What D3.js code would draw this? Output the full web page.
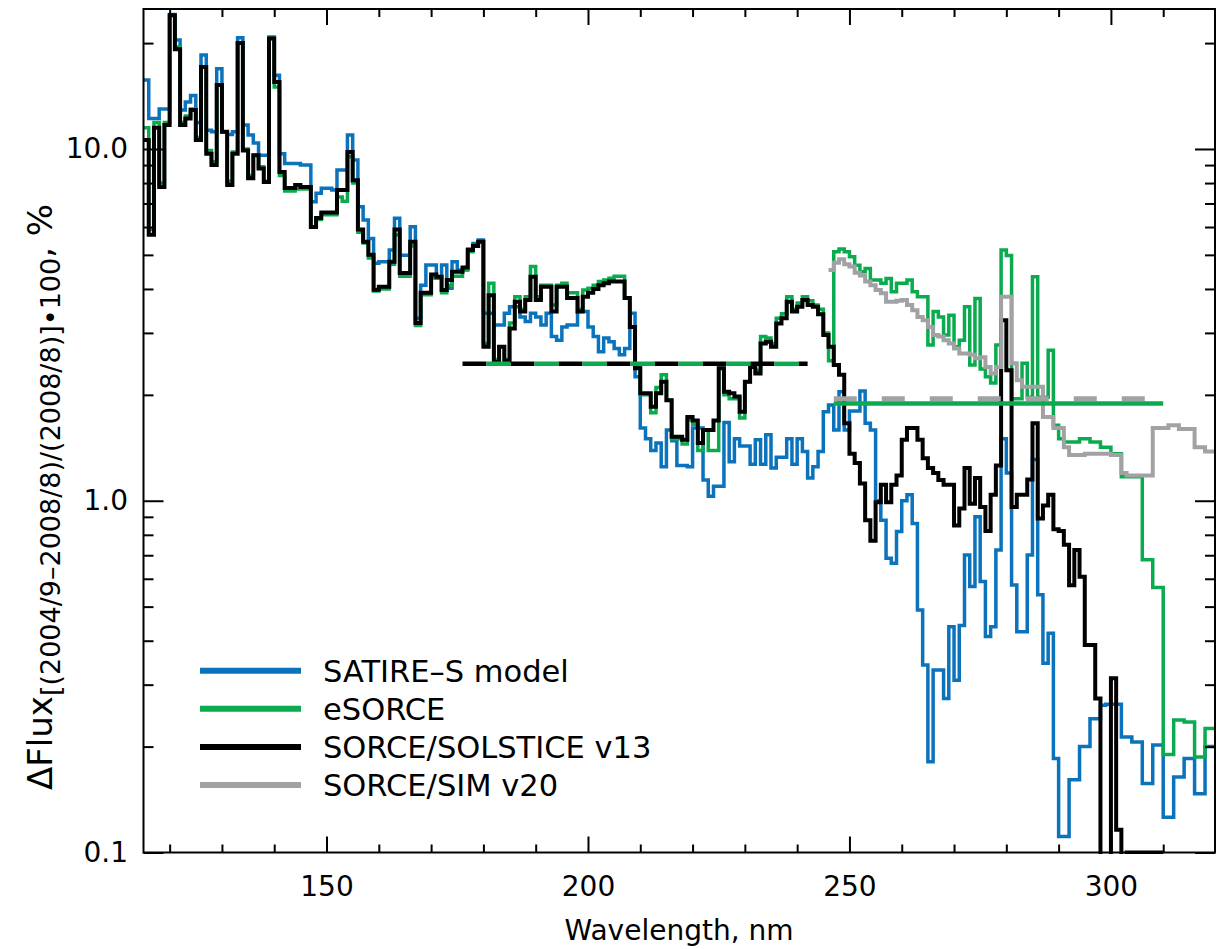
<!DOCTYPE html>
<html>
<head>
<meta charset="utf-8">
<script src="https://cdn.jsdelivr.net/npm/d3@7/dist/d3.min.js"></script>
<style>
  html, body { margin: 0; padding: 0; background: #fff; }
  svg { display: block; font-family: "DejaVu Sans", sans-serif; }
</style>
</head>
<body>
<svg id="chart" width="1216" height="949"></svg>
<script>
// first wavelength (nm) of each series, 1 nm bins
var satireStart = 115, esorceStart = 115, solsticeStart = 115, simStart = 246;

var satire = [
  15.7, 12.2, 12.2, 13.0, 13.0, 24.1, 20.4, 12.9, 13.6, 14.2,
  11.9, 18.5, 11.3, 11.2, 16.9, 11.2, 11.0, 11.2, 20.7, 11.7,
  10.95, 10.4, 9.6, 9.6, 20.8, 16.2, 9.7, 9.1, 9.1, 9.1,
  9.0, 9.0, 7.08, 7.48, 7.73, 7.73, 7.64, 8.71, 8.71, 10.95,
  9.3, 6.85, 6.28, 5.57, 4.73, 4.78, 4.78, 5.16, 6.35, 4.99,
  4.99, 6.01, 3.3, 4.1, 4.68, 4.68, 4.29, 4.68, 4.02, 4.78,
  4.53, 4.53, 5.2, 5.39, 5.51, 3.41, 3.41, 3.16, 3.16, 3.41,
  3.56, 3.56, 3.33, 3.23, 3.41, 3.33, 3.16, 3.41, 2.93, 2.86,
  3.12, 3.16, 3.16, 3.45, 3.45, 3.12, 2.93, 2.65, 2.9, 2.83,
  2.71, 2.6, 2.71, 3.41, 2.25, 1.61, 1.5, 1.39, 1.46, 1.25,
  1.59, 1.48, 1.26, 1.26, 1.25, 1.61, 1.61, 1.145, 1.03, 1.1,
  1.1, 1.67, 1.29, 1.5, 1.43, 1.43, 1.27, 1.49, 1.27, 1.54,
  1.24, 1.33, 1.33, 1.5, 1.27, 1.5, 1.38, 1.16, 1.25, 1.38,
  1.79, 1.87, 1.59, 2.04, 1.59, 1.80, 1.80, 2.05, 1.66, 1.59,
  1.0, 0.88, 0.686, 0.664, 0.817, 1.0, 1.04, 0.862, 0.489, 0.341,
  0.181, 0.33, 0.33, 0.274, 0.438, 0.309, 0.442, 0.701, 0.57, 0.9,
  0.589, 0.411, 0.438, 0.724, 1.5, 1.2, 0.576, 0.424, 0.424, 0.701,
  1.31, 0.54, 0.345, 0.42, 0.185, 0.111, 0.111, 0.161, 0.161, 0.2,
  0.2, 0.24, 0.24, 0.262, 0.264, 0.264, 0.264, 0.213, 0.213, 0.206,
  0.206, 0.157, 0.157, 0.202, 0.202, 0.126, 0.126, 0.164, 0.164, 0.185,
  0.185, 0.147, 0.147, 0.2, 0.2
];

var esorce = [
  11.5, 5.9, 11.9, 8.0, 11.9, 24, 19.5, 11.9, 12.4, 13.0,
  10.8, 17.1, 9.9, 9.2, 15.2, 11.2, 8.1, 9.8, 20, 10.0,
  8.4, 9.6, 8.9, 8.1, 20.6, 15.0, 8.4, 7.6, 7.6, 7.7,
  7.7, 7.7, 6.0, 6.3, 6.5, 6.5, 6.5, 7.3, 7.1, 9.5,
  8.0, 5.8, 5.4, 4.9, 3.95, 4.0, 4.0, 4.7, 5.7, 4.35,
  4.35, 5.3, 3.15, 3.85, 3.85, 4.3, 4.3, 3.9, 4.1, 4.35,
  4.35, 4.55, 5.1, 5.3, 5.45, 2.8, 4.15, 2.52, 2.74, 2.52,
  3.2, 3.8, 3.5, 3.8, 4.63, 3.8, 4.1, 4.1, 3.6, 4.1,
  4.15, 3.9, 3.9, 3.5, 3.97, 4.02, 4.1, 4.2, 4.24, 4.29,
  4.35, 4.35, 3.77, 3.12, 2.4, 2.0, 2.0, 1.78, 2.1, 2.28,
  1.93, 1.5, 1.5, 1.45, 1.7, 1.65, 1.39, 1.59, 1.39, 1.39,
  2.38, 2.0, 1.95, 1.95, 1.72, 2.18, 2.45, 2.35, 2.93, 2.9,
  2.8, 3.3, 3.4, 3.8, 3.5, 3.65, 3.8, 3.7, 3.6, 3.5,
  3.0, 2.5, 5.1, 5.2, 5.1, 4.94, 4.67, 4.48, 4.57, 4.24,
  4.24, 4.15, 4.28, 3.93, 4.15, 4.15, 4.24, 3.93, 3.8, 3.8,
  2.77, 3.45, 3.33, 2.96, 3.37, 2.74, 2.86, 3.56, 2.43, 3.76,
  2.37, 2.25, 2.16, 2.77, 5.16, 4.98, 1.95, 1.95, 2.46, 1.97,
  4.33, 1.97, 1.97, 2.68, 1.64, 1.50, 1.47, 1.47, 1.47, 1.50,
  1.50, 1.47, 1.47, 1.42, 1.42, 1.36, 1.36, 1.17, 1.17, 1.17,
  1.17, 0.68, 0.68, 0.567, 0.567, 0.19, 0.19, 0.238, 0.238, 0.235,
  0.235, 0.187, 0.187, 0.225, 0.225
];

var solstice = [
  10.6, 5.7, 11.5, 7.8, 11.7, 24, 19.2, 11.7, 12.2, 12.9,
  10.6, 17.1, 9.7, 9.0, 15.2, 11.2, 7.9, 9.7, 20, 9.9,
  8.25, 9.6, 8.8, 8.05, 20.6, 15.5, 8.6, 7.74, 7.74, 7.9,
  7.8, 7.8, 6.0, 6.36, 6.6, 6.6, 6.6, 7.64, 7.64, 9.8,
  8.15, 5.9, 5.45, 5.0, 3.98, 4.06, 4.06, 4.78, 5.9, 4.44,
  4.44, 5.45, 3.2, 3.9, 3.9, 4.4, 4.33, 3.97, 4.24, 4.48,
  4.48, 4.6, 5.16, 5.3, 5.45, 2.74, 3.84, 2.48, 2.74, 2.5,
  3.09, 3.68, 3.45, 3.72, 4.33, 3.72, 4.06, 4.06, 3.45, 4.06,
  4.06, 3.77, 3.77, 3.45, 3.8, 3.9, 4.0, 4.1, 4.15, 4.2,
  4.2, 4.2, 3.77, 3.12, 2.38, 2.02, 2.02, 1.85, 2.02, 2.18,
  1.93, 1.52, 1.52, 1.49, 1.73, 1.69, 1.46, 1.59, 1.59, 1.69,
  2.38, 2.04, 2.02, 1.98, 1.79, 2.18, 2.40, 2.30, 2.80, 2.83,
  2.74, 3.19, 3.30, 3.68, 3.45, 3.56, 3.72, 3.6, 3.56, 3.39,
  2.96, 2.74, 2.43, 2.28, 1.66, 1.36, 1.28, 1.12, 0.88, 0.77,
  0.99, 1.11, 0.99, 1.11, 1.18, 1.49, 1.61, 1.61, 1.49, 1.32,
  1.24, 1.2, 1.145, 1.11, 1.11, 0.85, 0.95, 1.24, 0.98, 1.16,
  0.96, 0.82, 1.04, 1.26, 3.26, 2.35, 0.96, 1.04, 1.04, 1.15,
  1.66, 0.89, 0.97, 1.04, 0.83, 0.82, 0.75, 0.575, 0.724, 0.608,
  0.389, 0.389, 0.274, 0.05, 0.05, 0.313, 0.116, 0.05, 0.1, 0.1,
  0.1, 0.1, 0.1, 0.1, 0.1
];

var sim = [
  4.53, 4.75, 4.86, 4.7, 4.63, 4.45, 4.37, 4.2, 4.1, 3.97,
  3.89, 3.68, 3.68, 3.7, 3.72, 3.6, 3.48, 3.33, 3.26, 3.12,
  2.96, 2.93, 2.86, 2.80, 2.71, 2.62, 2.62, 2.6, 2.54, 2.56,
  2.40, 2.30, 2.40, 3.80, 3.80, 2.46, 2.20, 2.11, 2.11, 2.11,
  2.11, 1.73, 1.73, 1.61, 1.61, 1.42, 1.35, 1.35, 1.35, 1.36,
  1.36, 1.36, 1.36, 1.36, 1.35, 1.35, 1.2, 1.18, 1.18, 1.18,
  1.18, 1.18, 1.61, 1.61, 1.61, 1.64, 1.64, 1.6, 1.6, 1.6,
  1.42, 1.42, 1.38, 1.38
];

// band averages: [from nm, to nm, level %]
var solsticeBand = [176, 242, 2.45];
var esorceBandUv = [176, 242, 2.45];
var simBand = [247, 310, 1.95];
var esorceBandMuv = [247, 310, 1.89];

var seriesNames = ["SATIRE\u2013S model", "eSORCE", "SORCE/SOLSTICE v13", "SORCE/SIM v20"];
var xMajorTicks = [150, 200, 250, 300];
var yMajorTicks = [0.1, 1, 10];
var yTickLabels = ["0.1", "1.0", "10.0"];

var colors = {satire: "#0b73bb", esorce: "#0aab4e", solstice: "#000000", sim: "#a2a2a4"};

var svg = d3.select("#chart"),
  plotLeft = 143.5, plotRight = 1215, plotTop = 9, plotBottom = 852.5,
  x = d3.scaleLinear().domain([115, 320]).range([plotLeft, 1215.5]),
  y = d3.scaleLog().domain([0.1, 25]).range([plotBottom, plotTop]),
  stepLine = d3.line()
    .curve(d3.curveStepAfter)
    .x(function(d) { return x(d[0]); })
    .y(function(d) { return y(d[1]); }),
  toPoints = function(start, values) {
    var pts = values.map(function(v, i) { return [start + i, v]; });
    pts.push([start + values.length, values[values.length - 1]]);
    return pts;
  },
  xMinorTicks = d3.range(120, 321, 10).filter(function(d) { return d % 50 !== 0; }),
  yMinorTicks = [];

[0.1, 1, 10].forEach(function(dec) {
  d3.range(2, 10).forEach(function(m) {
    if (m * dec <= 25) yMinorTicks.push(m * dec);
  });
});

svg.append("defs").append("clipPath")
    .attr("id", "plot-clip")
  .append("rect")
    .attr("x", plotLeft)
    .attr("y", plotTop)
    .attr("width", plotRight - plotLeft)
    .attr("height", plotBottom - plotTop + 1.5);

var dataLayer = svg.append("g").attr("clip-path", "url(#plot-clip)");

[
  {start: satireStart, values: satire, color: colors.satire, width: 3.5},
  {start: esorceStart, values: esorce, color: colors.esorce, width: 3.5},
  {start: solsticeStart, values: solstice, color: colors.solstice, width: 4},
  {start: simStart, values: sim, color: colors.sim, width: 4}
].forEach(function(s) {
  dataLayer.append("path")
    .attr("fill", "none")
    .attr("stroke", s.color)
    .attr("stroke-width", s.width)
    .attr("stroke-linejoin", "miter")
    .attr("d", stepLine(toPoints(s.start, s.values)));
});

var bandLine = function(band, color, width, dash, offset) {
  dataLayer.append("line")
    .attr("x1", x(band[0]))
    .attr("x2", x(band[1]))
    .attr("y1", y(band[2]))
    .attr("y2", y(band[2]))
    .attr("stroke", color)
    .attr("stroke-width", width)
    .attr("stroke-dasharray", dash)
    .attr("stroke-dashoffset", offset);
};
bandLine(solsticeBand, colors.solstice, 4.5, "24,24", 0);
bandLine(esorceBandUv, colors.esorce, 4.5, "24,24", 24);
bandLine(simBand, colors.sim, 5, "23,25", 0);
bandLine(esorceBandMuv, colors.esorce, 4.5, null, 0);

// frame and ticks
svg.append("rect")
  .attr("x", plotLeft)
  .attr("y", plotTop)
  .attr("width", plotRight - plotLeft)
  .attr("height", plotBottom - plotTop)
  .attr("fill", "none")
  .attr("stroke", "#000")
  .attr("stroke-width", 2);

var drawAxis = function(axis, tx, ty) {
  var g = svg.append("g")
    .attr("transform", "translate(" + tx + "," + ty + ")")
    .call(axis);
  g.select(".domain").remove();
  g.attr("font-family", null).attr("font-size", 28);
  g.selectAll("line").attr("stroke-width", 2);
  g.selectAll("text").attr("fill", "#000");
  return g;
};

drawAxis(d3.axisBottom(x).tickValues(xMajorTicks).tickSize(-16).tickPadding(24), 0, plotBottom);
drawAxis(d3.axisBottom(x).tickValues(xMinorTicks).tickSize(-8).tickFormat(""), 0, plotBottom);
drawAxis(d3.axisTop(x).tickValues(xMajorTicks).tickSize(-16).tickFormat(""), 0, plotTop);
drawAxis(d3.axisTop(x).tickValues(xMinorTicks).tickSize(-8).tickFormat(""), 0, plotTop);

drawAxis(d3.axisLeft(y).tickValues(yMajorTicks).tickSize(-20).tickPadding(15.5)
  .tickFormat(function(d, i) { return yTickLabels[i]; }), plotLeft, 0);
drawAxis(d3.axisLeft(y).tickValues(yMinorTicks).tickSize(-10).tickFormat(""), plotLeft, 0);
drawAxis(d3.axisRight(y).tickValues(yMajorTicks).tickSize(-20).tickFormat(""), plotRight, 0);
drawAxis(d3.axisRight(y).tickValues(yMinorTicks).tickSize(-10).tickFormat(""), plotRight, 0);

// axis titles
svg.append("text")
  .attr("x", 679)
  .attr("y", 940)
  .attr("text-anchor", "middle")
  .attr("font-size", 28)
  .text("Wavelength, nm");

var yTitle = svg.append("text")
  .attr("transform", "translate(52,790) rotate(-90)")
  .attr("font-size", 34);
yTitle.append("tspan").text("\u0394Flux");
yTitle.append("tspan")
  .attr("font-size", 27)
  .attr("dy", 8)
  .text("[(2004/9\u20132008/8)/(2008/8)]\u2022100");
yTitle.append("tspan")
  .attr("dy", -8)
  .text(", %");

// legend
var legendColors = [colors.satire, colors.esorce, colors.solstice, colors.sim],
  legend = svg.append("g");

seriesNames.forEach(function(name, i) {
  var ly = 670.7 + i * 38.1;
  legend.append("line")
    .attr("x1", 200)
    .attr("x2", 301)
    .attr("y1", ly)
    .attr("y2", ly)
    .attr("stroke", legendColors[i])
    .attr("stroke-width", 6);
  legend.append("text")
    .attr("x", 323)
    .attr("y", ly)
    .attr("dy", "0.36em")
    .attr("font-size", 30.5)
    .text(name);
});
</script>
</body>
</html>
